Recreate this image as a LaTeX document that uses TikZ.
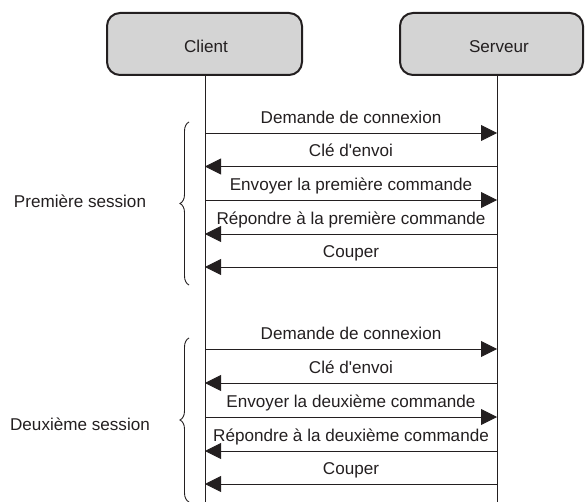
\documentclass[tikz,border=0pt]{standalone}
\usepackage{fontspec}
\setmainfont{Liberation Sans}[Ligatures=TeXOff]
\usetikzlibrary{arrows.meta,decorations.pathreplacing}
\definecolor{ink}{HTML}{231F20}
\definecolor{boxfill}{HTML}{D4D4D4}
\begin{document}
\begin{tikzpicture}[x=1pt,y=-1pt,
  every node/.style={font=\fontsize{17.1}{20}\selectfont, text=ink},
  actor/.style={draw=ink, line width=2pt, fill=boxfill, rounded corners=13pt, inner sep=0pt},
  life/.style={draw=ink, line width=0.9pt},
  msg/.style={draw=ink, line width=0.9pt, -{Triangle[length=16pt,width=16pt]}},
  msglbl/.style={anchor=base, inner sep=0pt},
  sess/.style={draw=ink, line width=0.9pt, decorate, decoration={brace, amplitude=9pt}},
  sesslbl/.style={anchor=base, inner sep=0pt}]
\useasboundingbox (0,0) rectangle (585,502);

% actors
\node[actor, minimum width=195pt, minimum height=62pt] (client) at (204.5,44) {};
\node[anchor=base, inner sep=0pt] (clienttxt) at (206,52.5) {Client};
\node[actor, minimum width=183pt, minimum height=62pt] (serveur) at (491.5,44) {};
\node[anchor=base, inner sep=0pt] (serveurtxt) at (499,52.5) {Serveur};

% lifelines
\coordinate (cbot) at (205,502);
\coordinate (sbot) at (497,502);
\draw[life] (205,75) coordinate (ctop) -- (cbot);
\draw[life] (497,75) coordinate (stop) -- (sbot);

% message coordinates
\foreach \n/\y in {1/133,2/166.5,3/200,4/234,5/267,6/349,7/383,8/417,9/451,10/484}{
  \coordinate (c\n) at (205,\y);
  \coordinate (s\n) at (497,\y);
  \coordinate (m\n) at (351,\y-9.5);
}

% session 1
\draw[msg] (c1) -- (s1);
\node[msglbl] (l1) at (m1) {Demande de connexion};
\draw[msg] (s2) -- (c2);
\node[msglbl] (l2) at (m2) {Clé d'envoi};
\draw[msg] (c3) -- (s3);
\node[msglbl] (l3) at (m3) {Envoyer la première commande};
\draw[msg] (s4) -- (c4);
\node[msglbl] (l4) at (m4) {Répondre à la première commande};
\draw[msg] (s5) -- (c5);
\node[msglbl] (l5) at (m5) {Couper};

% session 2
\draw[msg] (c6) -- (s6);
\node[msglbl] (l6) at (m6) {Demande de connexion};
\draw[msg] (s7) -- (c7);
\node[msglbl] (l7) at (m7) {Clé d'envoi};
\draw[msg] (c8) -- (s8);
\node[msglbl] (l8) at (m8) {Envoyer la deuxième commande};
\draw[msg] (s9) -- (c9);
\node[msglbl] (l9) at (m9) {Répondre à la deuxième commande};
\draw[msg] (s10) -- (c10);
\node[msglbl] (l10) at (m10) {Couper};

% braces
\coordinate (b1bot) at (189,285);
\coordinate (b1top) at (189,122);
\draw[sess] (b1bot) -- (b1top);
\node[sesslbl] (sess1) at (80,208) {Première session};
\coordinate (b2bot) at (189,502);
\coordinate (b2top) at (189,338);
\draw[sess] (b2bot) -- (b2top);
\node[sesslbl] (sess2) at (80,430) {Deuxième session};
\end{tikzpicture}
\end{document}
